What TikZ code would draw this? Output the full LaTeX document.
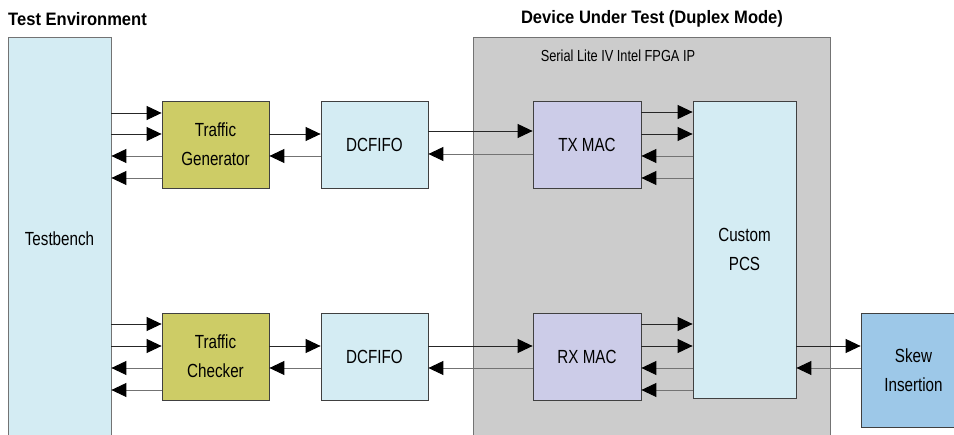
\documentclass[tikz,border=0pt]{standalone}
\usepackage{fontspec}
\setmainfont{Liberation Sans}[FakeStretch=0.8,BoldFeatures={FakeStretch=0.92}]
\usetikzlibrary{arrows.meta,positioning}

\definecolor{tbblue}{HTML}{D4ECF3}
\definecolor{trafficolive}{HTML}{CDCC66}
\definecolor{maclavender}{HTML}{CCCCE8}
\definecolor{dutgray}{HTML}{CCCCCC}
\definecolor{skewblue}{HTML}{9DC8E8}

\tikzset{
  blk/.style={draw=black!75, line width=0.8pt, inner sep=0pt, align=center,
    font=\fontsize{19}{29}\selectfont},
  title/.style={font=\fontsize{18}{22}\selectfont\bfseries, inner sep=0pt},
  rarr/.style={-{Triangle[length=15pt,width=14pt,color=black]}, line width=0.9pt, black!85},
  larr/.style={-{Triangle[length=15pt,width=14pt,color=black]}, line width=0.9pt, black!55},
}

\begin{document}
\begin{tikzpicture}[x=1pt,y=-1pt]
  \useasboundingbox (0,0) rectangle (954,435);
  % headings
  \node [title,anchor=west] (envtitle) at (8,19) {Test Environment};
  \node [title] (duttitle) at (652,19) {Device Under Test (Duplex Mode)};
  % blocks
  \node [blk,draw=black!55,fill=dutgray,minimum width=357pt,minimum height=408pt] (dut) at (651.5,241) {};
  \node [font=\fontsize{16}{20}\selectfont] (iptitle) at (618,56) {Serial Lite IV Intel FPGA IP};
  \node [blk,draw=black!55,fill=tbblue,minimum width=103pt,minimum height=404pt] (tb) at (59.5,239) {Testbench};
  \node [blk,fill=trafficolive,minimum width=107pt,minimum height=87pt] (tg) at (215.5,144.5) {Traffic\\Generator};
  \node [blk,fill=trafficolive,minimum width=107pt,minimum height=87pt] (tc) at (215.5,356.5) {Traffic\\Checker};
  \node [blk,fill=tbblue,minimum width=107pt,minimum height=87pt] (fifotx) at (374.5,144.5) {DCFIFO};
  \node [blk,fill=tbblue,minimum width=107pt,minimum height=87pt] (fiforx) at (374.5,356.5) {DCFIFO};
  \node [blk,fill=maclavender,minimum width=108pt,minimum height=87pt] (txmac) at (587,144.5) {TX MAC};
  \node [blk,fill=maclavender,minimum width=108pt,minimum height=87pt] (rxmac) at (587,356.5) {RX MAC};
  \node [blk,fill=tbblue,minimum width=103pt,minimum height=297pt] (pcs) at (744.5,249.5) {Custom\\PCS};
  \node [blk,fill=skewblue,minimum width=105pt,minimum height=114pt] (skew) at (913.5,370) {Skew\\Insertion};
  % testbench <-> traffic blocks
  \foreach \y in {113,134} \draw [rarr] (tb.east |- 0,\y) -- (tg.west |- 0,\y);
  \foreach \y in {156,178} \draw [larr] (tg.west |- 0,\y) -- (tb.east |- 0,\y);
  \foreach \y in {324,346} \draw [rarr] (tb.east |- 0,\y) -- (tc.west |- 0,\y);
  \foreach \y in {368,390} \draw [larr] (tc.west |- 0,\y) -- (tb.east |- 0,\y);
  % traffic blocks <-> DCFIFO
  \draw [rarr] (tg.east |- 0,134) -- (fifotx.west |- 0,134);
  \draw [larr] (fifotx.west |- 0,156) -- (tg.east |- 0,156);
  \draw [rarr] (tc.east |- 0,346) -- (fiforx.west |- 0,346);
  \draw [larr] (fiforx.west |- 0,368) -- (tc.east |- 0,368);
  % DCFIFO <-> MAC
  \draw [rarr] (fifotx.east |- 0,131) -- (txmac.west |- 0,131);
  \draw [larr] (txmac.west |- 0,154) -- (fifotx.east |- 0,154);
  \draw [rarr] (fiforx.east |- 0,346) -- (rxmac.west |- 0,346);
  \draw [larr] (rxmac.west |- 0,368) -- (fiforx.east |- 0,368);
  % MAC <-> PCS
  \foreach \y in {112,134} \draw [rarr] (txmac.east |- 0,\y) -- (pcs.west |- 0,\y);
  \foreach \y in {156,178} \draw [larr] (pcs.west |- 0,\y) -- (txmac.east |- 0,\y);
  \foreach \y in {324,346} \draw [rarr] (rxmac.east |- 0,\y) -- (pcs.west |- 0,\y);
  \foreach \y in {368,390} \draw [larr] (pcs.west |- 0,\y) -- (rxmac.east |- 0,\y);
  % PCS <-> skew
  \draw [rarr] (pcs.east |- 0,346) -- (skew.west |- 0,346);
  \draw [larr] (skew.west |- 0,368) -- (pcs.east |- 0,368);
\end{tikzpicture}
\end{document}
